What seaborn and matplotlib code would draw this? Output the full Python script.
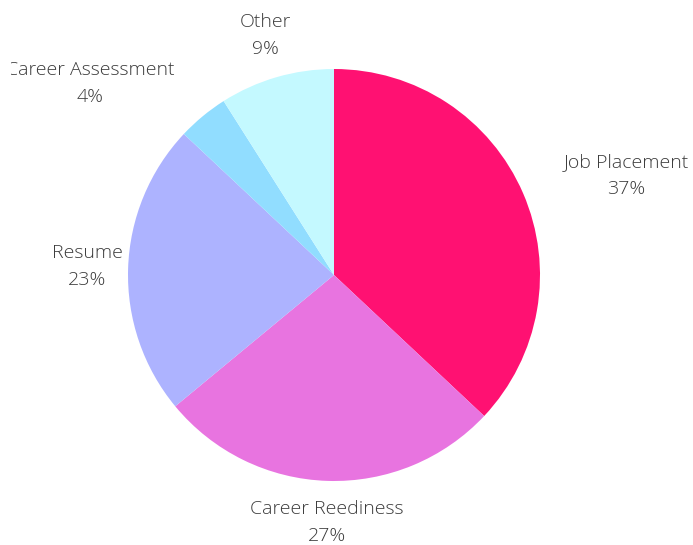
import matplotlib
matplotlib.use("Agg")
import matplotlib.pyplot as plt
from matplotlib.transforms import Bbox
import seaborn as sns

categories = ["Job Placement", "Career Reediness", "Resume", "Career Assessment", "Other"]
values = [37, 27, 23, 4, 9]
colors = ["#FF1172", "#E874E0", "#ADB3FF", "#91DDFF", "#C4F9FF"]

sns.set_theme(style="white")
plt.rcParams["font.family"] = ["Open Sans", "DejaVu Sans"]

W, H = 693, 545
fig = plt.figure(figsize=(W / 100, H / 100), dpi=100)
cx, cy, r = 334, 275, 206
ax = fig.add_axes([(cx - r) / W, (H - cy - r) / H, 2 * r / W, 2 * r / H])
ax.pie(values, colors=colors, startangle=90, counterclock=False, radius=1,
       wedgeprops=dict(linewidth=0))
ax.set_xlim(-1, 1)
ax.set_ylim(-1, 1)
ax.set_aspect("equal")
ax.axis("off")

# label centres in pixel space (name line, pct line)
label_pos = {
    "Job Placement": (626, 162),
    "Career Reediness": (327, 509),
    "Resume": (87, 253),
    "Career Assessment": (90, 70),
    "Other": (265, 22),
}
tc = "#3c3c3c"
for cat, val in zip(categories, values):
    px, py = label_pos[cat]
    x1, y1 = (px - cx) / r, (cy - py) / r
    x2, y2 = (px - cx) / r, (cy - (py + 27)) / r
    t = ax.text(x1, y1, cat, ha="center", va="center", fontsize=14, color=tc,
                fontweight="light", clip_on=False)
    if cat == "Career Assessment":
        t.set_clip_on(True)
        t.set_clip_box(Bbox.from_extents(11, 0, W, H))
    ax.text(x2, y2, f"{val}%", ha="center", va="center", fontsize=14, color=tc,
            fontweight="light", clip_on=False)

fig.savefig("out.png", dpi=100, facecolor="white")
